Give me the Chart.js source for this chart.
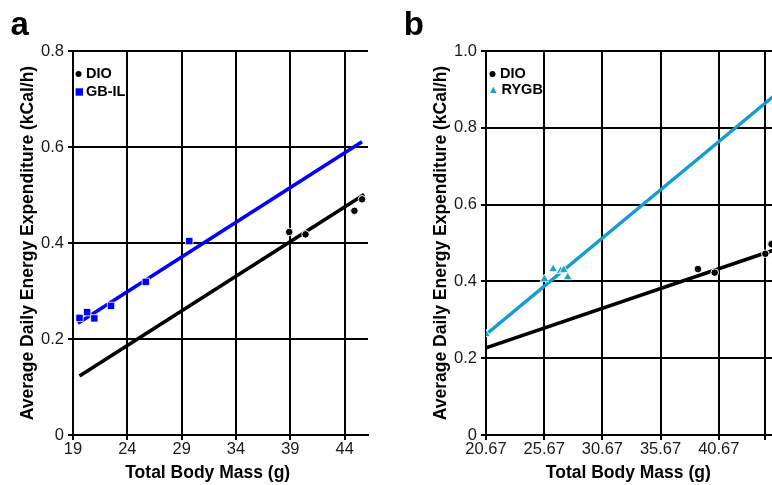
<!DOCTYPE html>
<html><head><meta charset="utf-8">
<script src="https://cdn.jsdelivr.net/npm/chart.js@4/dist/chart.umd.min.js"></script>
<style>
html,body{margin:0;padding:0;background:#fff;overflow:hidden;width:772px;height:485px;}
#wrap{position:relative;width:772px;height:485px;overflow:hidden;background:#fff;}
canvas{position:absolute;top:0;}
#ca{left:0;} #cb{left:390px;}
</style></head><body><div id="wrap">
<canvas id="ca" width="390" height="485"></canvas>
<canvas id="cb" width="410" height="485"></canvas>
</div>
<script>
// ---------- Panel a data ----------
const dioMassA = [38.9, 40.4, 44.9, 45.6];
const dioEEA = [0.423, 0.418, 0.467, 0.491];
const dioFitMassA = [19.6, 45.8];
const dioFitEEA = [0.123, 0.501];
const gbMassA = [19.6, 20.3, 20.96, 22.5, 25.7, 29.7];
const gbEEA = [0.244, 0.256, 0.243, 0.269, 0.319, 0.404];
const gbFitMassA = [19.46, 45.6];
const gbFitEEA = [0.233, 0.611];
const xTicksA = [19, 24, 29, 34, 39, 44];
const xTickLabelsA = ['19', '24', '29', '34', '39', '44'];
const yTicksA = [0, 0.2, 0.4, 0.6, 0.8];
const yTickLabelsA = ['0', '0.2', '0.4', '0.6', '0.8'];

// ---------- Panel b data ----------
const dioMassB = [38.88, 40.32, 44.67, 45.2];
const dioEEB = [0.432, 0.423, 0.472, 0.497];
const dioFitMassB = [20.67, 46.8];
const dioFitEEB = [0.227, 0.496];
const rygbMassB = [20.67, 25.69, 26.44, 27.07, 27.35, 27.69];
const rygbEEB = [0.263, 0.406, 0.432, 0.427, 0.430, 0.411];
const rygbFitMassB = [20.67, 46.8];
const rygbFitEEB = [0.262, 0.918];
const xTicksB = [20.67, 25.67, 30.67, 35.67, 40.67, 44.67];
const xTickLabelsB = ['20.67', '25.67', '30.67', '35.67', '40.67', ''];
const yTicksB = [0, 0.2, 0.4, 0.6, 0.8, 1.0];
const yTickLabelsB = ['0', '0.2', '0.4', '0.6', '0.8', '1.0'];

const yTitle = 'Average Daily Energy Expenditure (kCal/h)';
const xTitle = 'Total Body Mass (g)';

const FONT = '"Liberation Sans", Arial, Helvetica, sans-serif';
Chart.defaults.font.family = FONT;

const pts = (xs, ys) => xs.map((x, i) => ({x: x, y: ys[i]}));

function drawMarker(ctx, style, x, y, r) {
  ctx.beginPath();
  if (style === 'circle') {
    ctx.arc(x, y, r, 0, Math.PI * 2);
  } else if (style === 'rect') {
    ctx.rect(x - r, y - r, 2 * r, 2 * r);
  } else if (style === 'triangle') {
    ctx.moveTo(x, y - r * 1.1);
    ctx.lineTo(x + r, y + r * 0.75);
    ctx.lineTo(x - r, y + r * 0.75);
    ctx.closePath();
  }
  ctx.fill();
}

const panelDeco = {
  id: 'panelDeco',
  afterDraw(chart, args, o) {
    const ctx = chart.ctx;
    ctx.save();
    ctx.fillStyle = '#000';
    ctx.font = 'bold 33px ' + FONT;
    ctx.textAlign = 'left';
    ctx.textBaseline = 'alphabetic';
    ctx.fillText(o.letter, o.letterX, 35);
    ctx.font = 'bold 17.5px ' + FONT;
    ctx.textAlign = 'center';
    ctx.textBaseline = 'middle';
    ctx.fillText(o.xTitle, o.xTitleX, 473);
    o.legend.forEach(it => {
      const ds = chart.data.datasets[it.ds];
      ctx.fillStyle = ds.backgroundColor;
      drawMarker(ctx, ds.pointStyle, it.mx, it.my, it.r);
      ctx.fillStyle = '#000';
      ctx.font = 'bold 14.5px ' + FONT;
      ctx.textAlign = 'left';
      ctx.textBaseline = 'middle';
      ctx.fillText(ds.label, it.tx, it.ty);
    });
    ctx.restore();
  }
};

function scales(xt, xl, xmin, xmax, yt, yl, ymax) {
  const grid = {color: '#000', lineWidth: 2, drawTicks: true, tickLength: 5, tickColor: '#000'};
  const border = {display: true, color: '#000', width: 2};
  return {
    x: {
      type: 'linear', min: xmin, max: xmax,
      grid: grid, border: border,
      afterBuildTicks: s => { s.ticks = xt.map(v => ({value: v})); },
      afterFit: s => { s.height = 50; },
      ticks: {autoSkip: false, maxRotation: 0, padding: 0, color: '#1a1a1a',
        font: {size: 16.5}, callback: (v, i) => xl[i]},
      title: {display: false}
    },
    y: {
      type: 'linear', min: 0, max: ymax,
      grid: grid, border: border,
      afterBuildTicks: s => { s.ticks = yt.map(v => ({value: v})); },
      afterFit: s => { s.width = 73; },
      ticks: {autoSkip: false, padding: 4, color: '#1a1a1a',
        font: {size: 16.5}, callback: (v, i) => yl[i]},
      title: {display: true, text: yTitle, color: '#000',
        font: {size: 17.5, weight: 'bold'}, padding: {top: 18, bottom: 0}}
    }
  };
}

const common = {
  responsive: false, animation: false, devicePixelRatio: 1,
  events: [],
};

// ---------- Chart a ----------
new Chart(document.getElementById('ca'), {
  type: 'scatter',
  data: {datasets: [
    {label: 'DIO', data: pts(dioMassA, dioEEA), pointStyle: 'circle', backgroundColor: '#000',
      borderColor: '#fff', borderWidth: 1, pointRadius: 3.8, order: 1},
    {label: 'GB-IL', data: pts(gbMassA, gbEEA), pointStyle: 'rect', backgroundColor: '#0000ff',
      borderColor: '#fff', borderWidth: 0.8, pointRadius: 5.2, order: 1},
    {label: 'DIO fit', data: pts(dioFitMassA, dioFitEEA), showLine: true, borderColor: '#000',
      backgroundColor: '#000', borderWidth: 3.6, pointRadius: 0, fill: false, order: 2},
    {label: 'GB-IL fit', data: pts(gbFitMassA, gbFitEEA), showLine: true, borderColor: '#0000ff',
      backgroundColor: '#0000ff', borderWidth: 3.6, pointRadius: 0, fill: false, order: 2}
  ]},
  options: Object.assign({}, common, {
    layout: {padding: {top: 51, right: 22, left: 0, bottom: 0}},
    scales: scales(xTicksA, xTickLabelsA, 19, 46.15, yTicksA, yTickLabelsA, 0.8),
    plugins: {
      legend: {display: false}, tooltip: {enabled: false},
      panelDeco: {letter: 'a', letterX: 10.4, xTitle: xTitle, xTitleX: 207.7,
        legend: [
          {ds: 0, mx: 78.5, my: 74, r: 3, tx: 86, ty: 74},
          {ds: 1, mx: 79.3, my: 92, r: 3.7, tx: 86, ty: 92}
        ]}
    }
  }),
  plugins: [panelDeco]
});

// ---------- Chart b ----------
new Chart(document.getElementById('cb'), {
  type: 'scatter',
  data: {datasets: [
    {label: 'DIO', data: pts(dioMassB, dioEEB), pointStyle: 'circle', backgroundColor: '#000',
      borderColor: '#fff', borderWidth: 1, pointRadius: 3.8, order: 1},
    {label: 'RYGB', data: pts(rygbMassB, rygbEEB), pointStyle: 'triangle', backgroundColor: '#1ba0c4',
      borderColor: '#fff', borderWidth: 0.8, pointRadius: 5, order: 1},
    {label: 'DIO fit', data: pts(dioFitMassB, dioFitEEB), showLine: true, borderColor: '#000',
      backgroundColor: '#000', borderWidth: 3.6, pointRadius: 0, fill: false, order: 2},
    {label: 'RYGB fit', data: pts(rygbFitMassB, rygbFitEEB), showLine: true, borderColor: '#129cd2',
      backgroundColor: '#129cd2', borderWidth: 3.4, pointRadius: 0, fill: false, order: 2}
  ]},
  options: Object.assign({}, common, {
    layout: {padding: {top: 51, right: 10, left: 23, bottom: 0}},
    scales: scales(xTicksB, xTickLabelsB, 20.67, 46.79, yTicksB, yTickLabelsB, 1.0),
    plugins: {
      legend: {display: false}, tooltip: {enabled: false},
      panelDeco: {letter: 'b', letterX: 13.7, xTitle: xTitle, xTitleX: 238.3,
        legend: [
          {ds: 0, mx: 102.5, my: 74, r: 3, tx: 110, ty: 74},
          {ds: 1, mx: 103.3, my: 90.5, r: 3.3, tx: 111.5, ty: 89.5}
        ]}
    }
  }),
  plugins: [panelDeco]
});
</script>
</body></html>
